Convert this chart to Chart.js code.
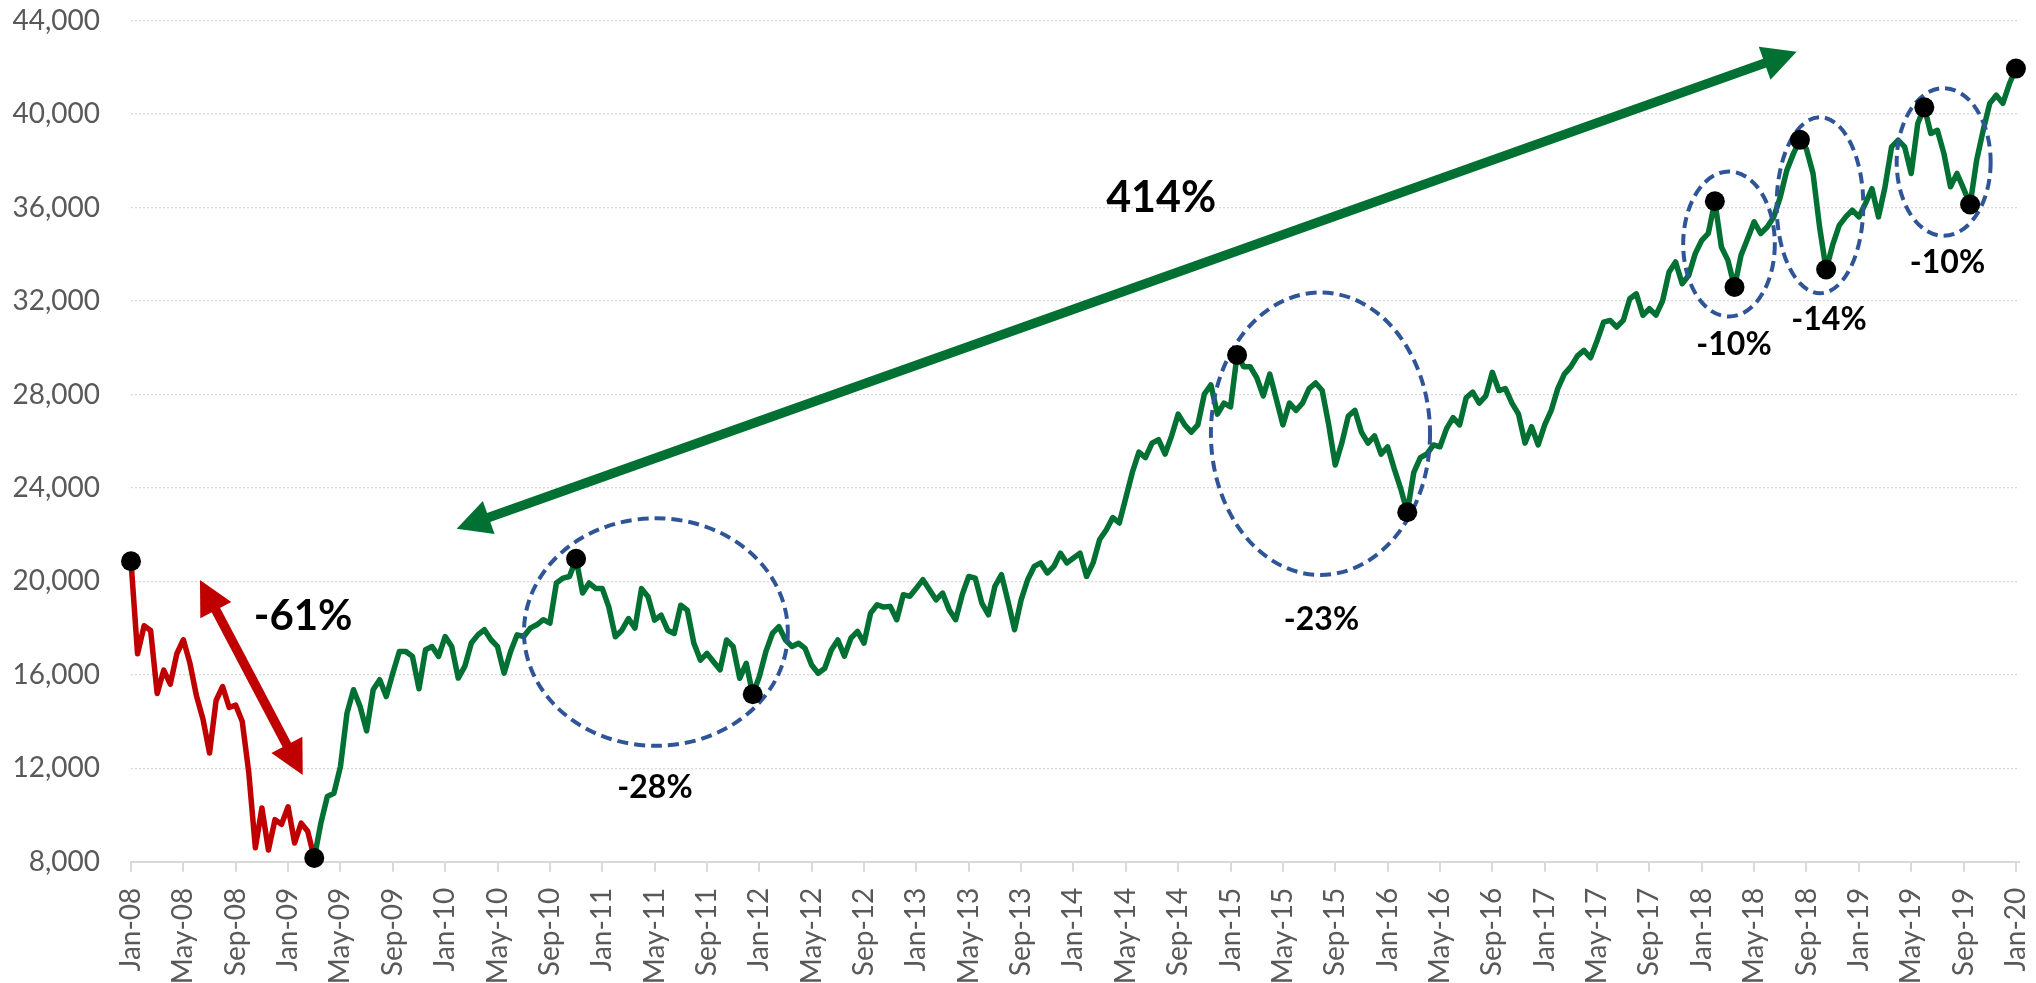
<!DOCTYPE html>
<html>
<head>
<meta charset="utf-8">
<title>Index 2008-2020</title>
<script src="https://cdn.jsdelivr.net/npm/chart.js@4.4.1/dist/chart.umd.min.js"></script>
<style>
  html, body { margin: 0; padding: 0; background: #ffffff; }
  canvas { display: block; }
</style>
</head>
<body>
<canvas id="indexChart" width="2036" height="983"></canvas>
<script>
// Axis tick labels (one every 4 months)
const tickLabels = [
  'Jan-08', 'May-08', 'Sep-08', 'Jan-09', 'May-09', 'Sep-09',
  'Jan-10', 'May-10', 'Sep-10', 'Jan-11', 'May-11', 'Sep-11',
  'Jan-12', 'May-12', 'Sep-12', 'Jan-13', 'May-13', 'Sep-13',
  'Jan-14', 'May-14', 'Sep-14', 'Jan-15', 'May-15', 'Sep-15',
  'Jan-16', 'May-16', 'Sep-16', 'Jan-17', 'May-17', 'Sep-17',
  'Jan-18', 'May-18', 'Sep-18', 'Jan-19', 'May-19', 'Sep-19',
  'Jan-20'
];

const values = [
  20860, 16900, 18100, 17900, 15200, 16200, 15600, 16900, 17500, 16500, 15100, 14100, 12650, 14900, 15500, 14600, 14700, 14000, 11800, 8600, 10300, 8500, 9800, 9600, // 2008
  10350, 8800, 9650, 9300, 8160, 9640, 10790, 10930, 12070, 14360, 15360, 14640, 13600, 15360, 15790, 15070, 16070, 17000, 17000, 16790, 15400, 17070, 17210, 16790, // 2009
  17640, 17210, 15860, 16360, 17360, 17710, 17930, 17500, 17210, 16070, 17000, 17710, 17640, 18000, 18140, 18360, 18210, 19930, 20140, 20210, 20970, 19500, 19930, 19700, // 2010
  19700, 18910, 17630, 17910, 18410, 18000, 19690, 19340, 18340, 18550, 17910, 17770, 18980, 18770, 17350, 16630, 16920, 16560, 16210, 17490, 17210, 15850, 16490, 15170, // 2011
  15920, 16990, 17770, 18060, 17490, 17210, 17350, 17130, 16420, 16070, 16280, 17060, 17490, 16800, 17570, 17860, 17360, 18640, 19000, 18900, 18930, 18360, 19430, 19360, // 2012
  19710, 20070, 19640, 19210, 19500, 18790, 18360, 19430, 20210, 20140, 19070, 18570, 19790, 20290, 19140, 17930, 19210, 20070, 20640, 20790, 20360, 20640, 21210, 20790, // 2013
  21000, 21210, 20210, 20790, 21790, 22200, 22730, 22500, 23580, 24670, 25530, 25300, 25920, 26070, 25450, 26230, 27160, 26700, 26390, 26700, 28020, 28410, 27160, 27630, // 2014
  27470, 29690, 29190, 29190, 28720, 27940, 28870, 27790, 26700, 27630, 27320, 27630, 28250, 28490, 28170, 26700, 24980, 25920, 27080, 27320, 26390, 25920, 26230, 25450, // 2015
  25760, 24830, 23970, 22960, 24670, 25300, 25450, 25840, 25760, 26540, 27010, 26700, 27860, 28100, 27630, 27940, 28950, 28170, 28250, 27630, 27160, 25920, 26620, 25840, // 2016
  26700, 27320, 28250, 28870, 29190, 29650, 29890, 29570, 30300, 31100, 31170, 30890, 31170, 32100, 32310, 31390, 31670, 31400, 32000, 33240, 33670, 32740, 33100, 34030, // 2017
  34600, 34900, 36270, 34310, 33740, 32600, 33960, 34670, 35390, 34890, 35170, 35600, 36460, 37600, 38310, 38900, 38500, 37460, 35170, 33350, 34400, 35240, 35600, 35890, // 2018
  35600, 36170, 36810, 35600, 36890, 38600, 38890, 38600, 37460, 39600, 40290, 39170, 39310, 38310, 36890, 37460, 36810, 36130, 38030, 39310, 40460, 40810, 40460, 41300, // 2019
  41950 // 2020
];

const crashEnd = 28; // Mar-09 low, end of the red part
const dotIndex = [0, 28, 68, 95, 169, 195, 242, 245, 255, 259, 274, 281, 288]; // peaks and troughs

// Percentage labels (m = months after Jan-08)
const moveLabels = [
  { text: '-61%', m: 13.15, v: 18560, size: 42 },
  { text: '414%', m: 78.7, v: 36455, size: 43 },
  { text: '-28%', m: 40.03, v: 11200, size: 32 },
  { text: '-23%', m: 90.95, v: 18390, size: 32 },
  { text: '-10%', m: 122.46, v: 30190, size: 32 },
  { text: '-14%', m: 129.72, v: 31260, size: 32 },
  { text: '-10%', m: 138.77, v: 33685, size: 32 }
];

// Dashed circles round each correction (centre and radii in months / points)
const corrections = [
  { m: 40.1, v: 17830, rm: 10.08, rv: 4870 },
  { m: 90.87, v: 26320, rm: 8.37, rv: 6045 },
  { m: 122.08, v: 34440, rm: 3.5, rv: 3104 },
  { m: 129.03, v: 36100, rm: 3.31, rv: 3767 },
  { m: 138.48, v: 37950, rm: 3.59, rv: 3159 }
];

// Double arrows
const arrows = [
  { from: [5.27, 20060], to: [13.12, 11710], color: '#C00000' },
  { from: [24.88, 22250], to: [127.25, 42670], color: '#007033' }
];

const RED = '#C00000';
const GREEN = '#007033';

function point(i) {
  return { x: i / 2, y: values[i] };
}

function drawDoubleArrow(ctx, x1, y1, x2, y2, color) {
  const shaft = 9.5, headLen = 34, headHalf = 17.5;
  const dx = x2 - x1, dy = y2 - y1, len = Math.hypot(dx, dy);
  const ux = dx / len, uy = dy / len, nx = -uy, ny = ux;
  ctx.save();
  ctx.fillStyle = color;
  ctx.strokeStyle = color;
  ctx.lineWidth = shaft;
  ctx.beginPath();
  ctx.moveTo(x1 + ux * headLen * 0.8, y1 + uy * headLen * 0.8);
  ctx.lineTo(x2 - ux * headLen * 0.8, y2 - uy * headLen * 0.8);
  ctx.stroke();
  [[x1, y1, 1], [x2, y2, -1]].forEach(([tx, ty, s]) => {
    const bx = tx + s * ux * headLen, by = ty + s * uy * headLen;
    ctx.beginPath();
    ctx.moveTo(tx, ty);
    ctx.lineTo(bx + nx * headHalf, by + ny * headHalf);
    ctx.lineTo(bx - nx * headHalf, by - ny * headHalf);
    ctx.closePath();
    ctx.fill();
  });
  ctx.restore();
}

// Circles and arrows go over the lines but under the dots, labels on top
const annotations = {
  id: 'annotations',
  afterDatasetDraw(chart, args) {
    if (args.index !== 1) return;
    const ctx = chart.ctx, x = chart.scales.x, y = chart.scales.y;
    ctx.save();
    ctx.strokeStyle = '#2F5597';
    ctx.lineWidth = 4;
    ctx.setLineDash([11, 6]);
    corrections.forEach(c => {
      const cx = x.getPixelForValue(c.m), cy = y.getPixelForValue(c.v);
      const rx = x.getPixelForValue(c.m + c.rm) - cx;
      const ry = cy - y.getPixelForValue(c.v + c.rv);
      ctx.beginPath();
      ctx.ellipse(cx, cy, rx, ry, 0, 0, Math.PI * 2);
      ctx.stroke();
    });
    ctx.restore();
    arrows.forEach(a => {
      drawDoubleArrow(ctx,
        x.getPixelForValue(a.from[0]), y.getPixelForValue(a.from[1]),
        x.getPixelForValue(a.to[0]), y.getPixelForValue(a.to[1]), a.color);
    });
  },
  afterDatasetsDraw(chart) {
    const ctx = chart.ctx, x = chart.scales.x, y = chart.scales.y;
    ctx.save();
    ctx.fillStyle = '#000000';
    ctx.textAlign = 'center';
    ctx.textBaseline = 'alphabetic';
    moveLabels.forEach(l => {
      ctx.font = 'bold ' + l.size + 'px Lato';
      ctx.fillText(l.text, x.getPixelForValue(l.m), y.getPixelForValue(l.v) + l.size * 0.36);
    });
    ctx.restore();
  }
};

function drawChart() {
  const ctx = document.getElementById('indexChart').getContext('2d');
  new Chart(ctx, {
    type: 'line',
    data: {
      datasets: [
        {
          data: dotIndex.map(point),
          showLine: false,
          pointRadius: 10,
          pointBackgroundColor: '#000000',
          pointBorderWidth: 0,
          clip: false,
          order: 0
        },
        {
          data: values.slice(0, crashEnd + 1).map((v, i) => point(i)),
          borderColor: RED,
          borderWidth: 5.5,
          borderJoinStyle: 'round',
          borderCapStyle: 'round',
          pointRadius: 0,
          clip: false,
          order: 1
        },
        {
          data: values.slice(crashEnd).map((v, i) => point(i + crashEnd)),
          borderColor: GREEN,
          borderWidth: 5.5,
          borderJoinStyle: 'round',
          borderCapStyle: 'round',
          pointRadius: 0,
          clip: false,
          order: 2
        }
      ]
    },
    options: {
      responsive: false,
      animation: false,
      layout: { padding: { top: 20.7, right: 16.8, left: 0, bottom: 0 } },
      plugins: {
        legend: { display: false },
        tooltip: { enabled: false }
      },
      elements: { line: { tension: 0 } },
      scales: {
        x: {
          type: 'linear',
          min: 0,
          max: 144.25,
          afterBuildTicks: s => { s.ticks = tickLabels.map((t, i) => ({ value: i * 4 })); },
          afterFit: s => { s.height = 121.3; s.paddingLeft = 0; s.paddingRight = 0; },
          grid: { drawOnChartArea: false, drawTicks: true, tickLength: 10, color: '#d9d9d9', lineWidth: 2 },
          border: { display: true, color: '#d9d9d9', width: 2 },
          ticks: {
            autoSkip: false,
            minRotation: 90,
            maxRotation: 90,
            padding: 16,
            color: '#595959',
            font: { family: 'Lato', size: 28 },
            callback: (v, i) => tickLabels[i]
          }
        },
        y: {
          min: 8000,
          max: 44000,
          afterFit: s => { s.width = 131; s.paddingTop = 0; s.paddingBottom = 0; },
          grid: {
            drawTicks: false,
            lineWidth: 1.3,
            color: c => (c.tick && c.tick.value === 8000) ? 'rgba(0,0,0,0)' : '#d9d9d9'
          },
          border: { display: false, dash: [2, 2] },
          ticks: {
            stepSize: 4000,
            padding: 31,
            color: '#595959',
            font: { family: 'Lato', size: 28 },
            callback: v => v.toLocaleString('en-US')
          }
        }
      }
    },
    plugins: [annotations]
  });
}

Promise.all([
  document.fonts.load('28px Lato'),
  document.fonts.load('bold 42px Lato')
]).then(drawChart, drawChart);
</script>
</body>
</html>
